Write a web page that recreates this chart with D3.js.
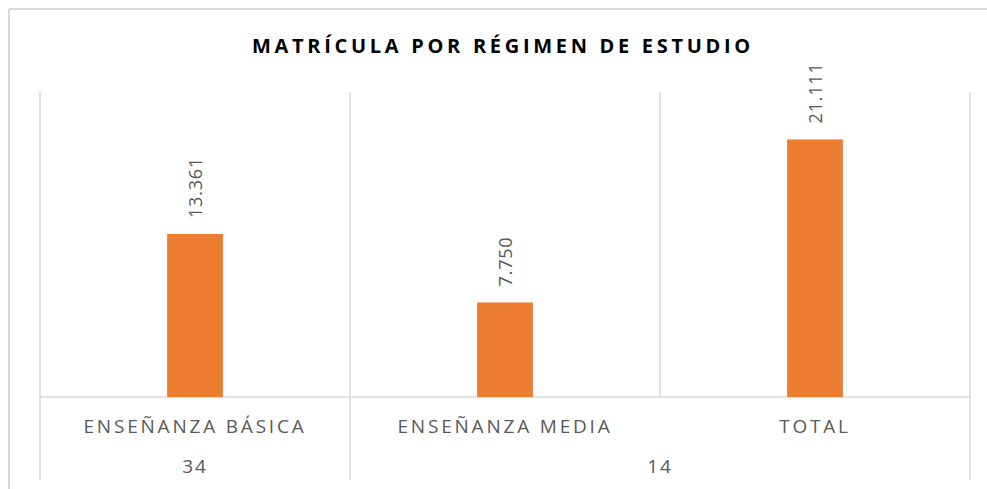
<!DOCTYPE html>
<html>
<head>
<meta charset="utf-8">
<script src="https://cdn.jsdelivr.net/npm/d3@7"></script>
<style>
  html, body { margin: 0; padding: 0; background: #fff; }
  svg { display: block; }
</style>
</head>
<body>
<svg id="chart" width="987" height="489"></svg>
<script>
const title = "MATRÍCULA POR RÉGIMEN DE ESTUDIO";
const categories = ["ENSEÑANZA BÁSICA", "ENSEÑANZA MEDIA", "TOTAL"];
const values = [13361, 7750, 21111];
const valueLabels = ["13.361", "7.750", "21.111"];
const groupLabels = ["34", "14"];
const groupSizes = [1, 2];
const yMax = 25000;

const svg = d3.select("#chart");
const W = 987, H = 489;
const plot = { left: 40, right: 970, top: 92, bottom: 397 };
const gridColor = "#d9d9d9";
const textColor = "#595959";
const font = "'Open Sans', 'Liberation Sans', sans-serif";

// outer chart border (top & left visible)
svg.append("line").attr("x1", 9).attr("x2", W).attr("y1", 9).attr("y2", 9)
  .attr("stroke", gridColor).attr("stroke-width", 2);
svg.append("line").attr("x1", 9).attr("x2", 9).attr("y1", 9).attr("y2", H)
  .attr("stroke", gridColor).attr("stroke-width", 2);

const x = d3.scaleBand().domain(categories).range([plot.left, plot.right]).padding(0);
const y = d3.scaleLinear().domain([0, yMax]).range([plot.bottom, plot.top]);
const bw = x.bandwidth() * 0.18;

// vertical category gridlines
const bounds = categories.map(c => x(c)).concat([plot.right]);
svg.selectAll("line.grid").data(bounds).join("line")
  .attr("class", "grid")
  .attr("x1", d => d).attr("x2", d => d)
  .attr("y1", plot.top).attr("y2", plot.bottom)
  .attr("stroke", gridColor).attr("stroke-width", 1.5);

// axis line
svg.append("line").attr("x1", plot.left).attr("x2", plot.right)
  .attr("y1", plot.bottom).attr("y2", plot.bottom)
  .attr("stroke", gridColor).attr("stroke-width", 1.5);

// group separator lines (extend downward)
let idx = 0;
const groupBounds = [];
groupSizes.forEach((s, i) => {
  const x0 = x(categories[idx]);
  const last = categories[idx + s - 1];
  const x1 = x(last) + x.bandwidth();
  groupBounds.push({ x0, x1, label: groupLabels[i] });
  idx += s;
});
const sepXs = groupBounds.map(g => g.x0).concat([plot.right]);
svg.selectAll("line.sep").data(sepXs).join("line")
  .attr("class", "sep")
  .attr("x1", d => d).attr("x2", d => d)
  .attr("y1", plot.bottom).attr("y2", 480)
  .attr("stroke", gridColor).attr("stroke-width", 1.5);

// bars
svg.selectAll("rect.bar").data(values).join("rect")
  .attr("class", "bar")
  .attr("x", (d, i) => x(categories[i]) + x.bandwidth() / 2 - bw / 2)
  .attr("width", bw)
  .attr("y", d => y(d))
  .attr("height", d => plot.bottom - y(d))
  .attr("fill", "#ED7D31");

// value labels (rotated)
svg.selectAll("text.val").data(values).join("text")
  .attr("class", "val")
  .attr("transform", (d, i) => `translate(${x(categories[i]) + x.bandwidth() / 2 + 7},${y(d) - 16}) rotate(-90)`)
  .attr("text-anchor", "start")
  .attr("font-family", font)
  .attr("font-size", 18)
  .attr("letter-spacing", "0.8px")
  .attr("fill", textColor)
  .text((d, i) => valueLabels[i]);

// category labels
svg.selectAll("text.cat").data(categories).join("text")
  .attr("class", "cat")
  .attr("x", d => x(d) + x.bandwidth() / 2)
  .attr("y", 433)
  .attr("text-anchor", "middle")
  .attr("font-family", font)
  .attr("font-size", 19)
  .attr("letter-spacing", "2.8px")
  .attr("fill", textColor)
  .text(d => d);

// group labels
svg.selectAll("text.grp").data(groupBounds).join("text")
  .attr("class", "grp")
  .attr("x", d => (d.x0 + d.x1) / 2)
  .attr("y", 473)
  .attr("text-anchor", "middle")
  .attr("font-family", font)
  .attr("font-size", 19)
  .attr("letter-spacing", "2px")
  .attr("fill", textColor)
  .text(d => d.label);

// title
svg.append("text")
  .attr("x", 503).attr("y", 53)
  .attr("text-anchor", "middle")
  .attr("font-family", font)
  .attr("font-weight", "bold")
  .attr("font-size", 20)
  .attr("letter-spacing", "3.7px")
  .attr("fill", "#000")
  .text(title);
</script>
</body>
</html>
